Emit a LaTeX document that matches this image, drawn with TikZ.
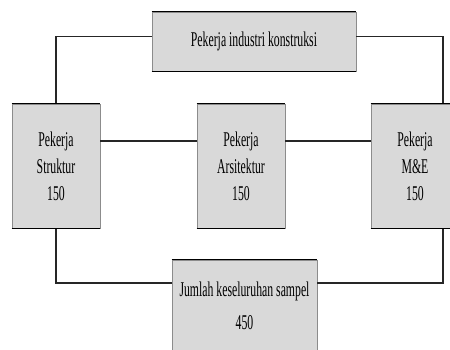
\documentclass[tikz,border=0pt]{standalone}
\usepackage{fontspec}
\setmainfont{Liberation Serif}[FakeStretch=0.56]
\usetikzlibrary{positioning}
\definecolor{boxgrey}{HTML}{D9D9D9}
\definecolor{edgegrey}{HTML}{8C8C8C}
\definecolor{linegrey}{HTML}{262626}

\begin{document}
\begin{tikzpicture}[x=1pt, y=1pt,
    unitbox/.style={draw=edgegrey, line width=0.8pt, fill=boxgrey,
      minimum width=88pt, minimum height=124pt, align=center, inner sep=0pt,
      font=\fontsize{21}{27}\selectfont},
    link/.style={linegrey, line width=1.1pt}]
  \useasboundingbox (0,0) rectangle (450,349);
  % boxes
  \node[unitbox, minimum width=204pt, minimum height=59pt] (indus) at (254,307.5) {Pekerja industri konstruksi};
  \node[unitbox] (struk) at (56,183) {Pekerja\\Struktur\\150};
  \node[unitbox] (arsi) at (241,183) {Pekerja\\Arsitektur\\150};
  \node[unitbox] (me) at (415,183) {Pekerja\\M\&E\\150};
  \node[unitbox, minimum width=145pt, minimum height=92pt] (total) at (244.5,43) {Jumlah keseluruhan sampel\\[6pt]450};
  % connectors
  \draw[link] ([yshift=5pt]indus.west) -| (struk.north);
  \draw[link] ([yshift=5pt]indus.east) -| ([xshift=28pt]me.north);
  \draw[link] ([yshift=25pt]struk.east) -- ([yshift=25pt]arsi.west);
  \draw[link] ([yshift=25pt]arsi.east) -- ([yshift=25pt]me.west);
  \draw[link] (struk.south) |- ([yshift=23pt]total.west);
  \draw[link] ([xshift=28pt]me.south) |- ([yshift=23pt]total.east);
  % heavy top and bottom edges
  \foreach \n in {indus,struk,arsi,me,total} {
    \draw[black, line width=1.6pt] (\n.north west) -- (\n.north east);
    \draw[black, line width=1.6pt] (\n.south west) -- (\n.south east);
  }
\end{tikzpicture}
\end{document}
